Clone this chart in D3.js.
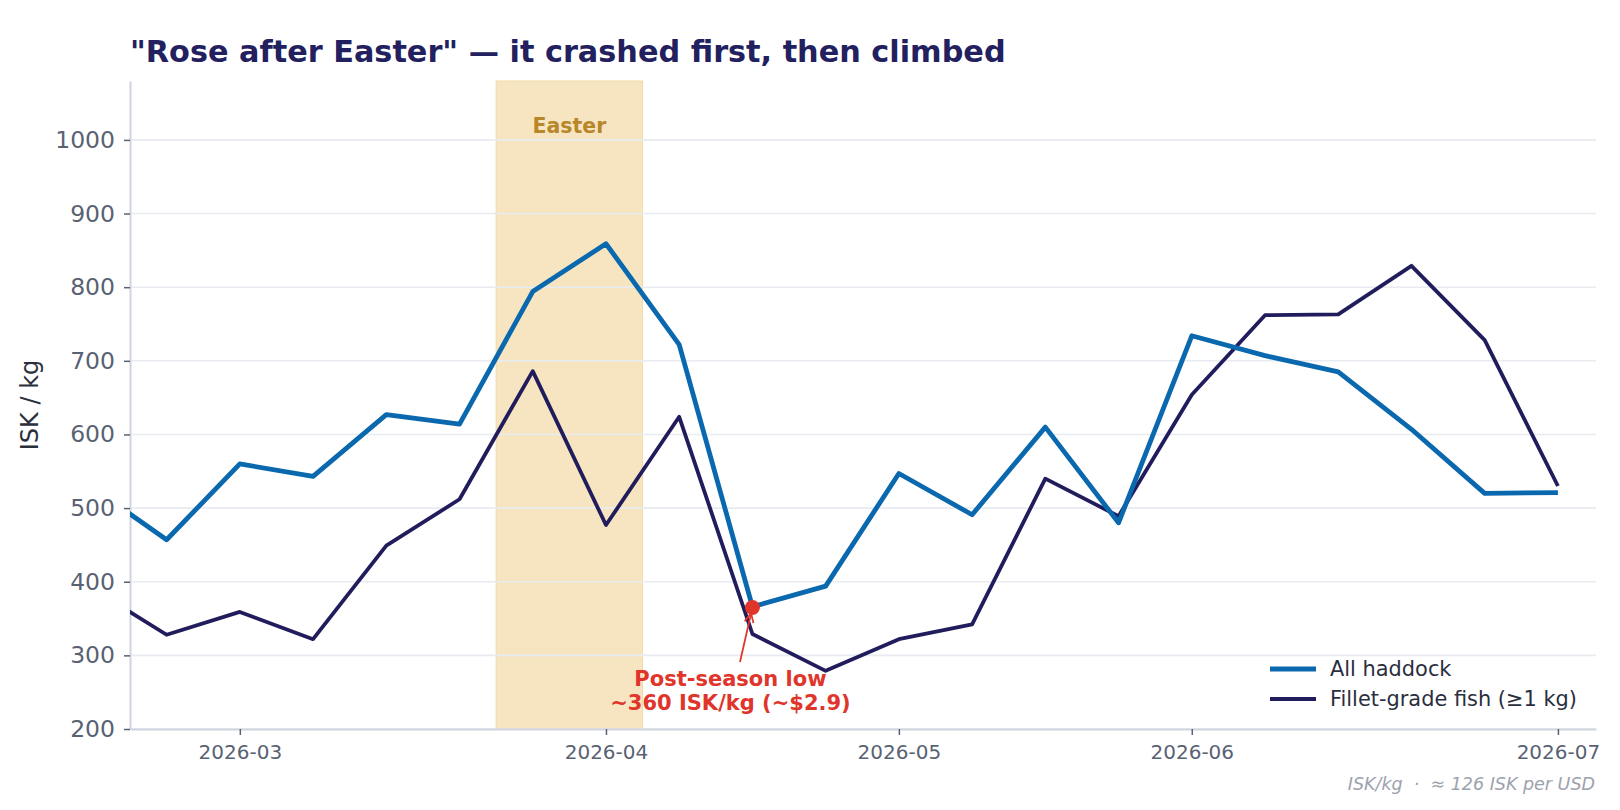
<!DOCTYPE html>
<html>
<head>
<meta charset="utf-8">
<script src="https://cdn.jsdelivr.net/npm/d3@7"></script>
<style>
  body { margin: 0; background: #fff; }
  text { font-family: "DejaVu Sans", sans-serif; }
</style>
</head>
<body>
<script>
/* DATA */
// weekly auction dates (one point per week, evenly spaced on the axis)
var weeks = ["2026-02-15", "2026-02-22", "2026-03-01", "2026-03-08", "2026-03-15", "2026-03-22",
  "2026-03-29", "2026-04-05", "2026-04-12", "2026-04-19", "2026-04-26", "2026-05-03",
  "2026-05-10", "2026-05-17", "2026-05-24", "2026-05-31", "2026-06-07", "2026-06-14",
  "2026-06-21", "2026-06-28", "2026-07-05"];
var haddock = [527, 457, 560, 543, 627, 614, 794, 859, 722, 366, 394, 547, 491, 610, 480, 734, 707, 685, 607, 520, 521];
var fillet  = [390, 328, 359, 322, 449, 512, 686, 477, 624, 329, 279, 322, 342, 540, 489, 654, 762, 763, 829, 728, 530];
var seriesNames = ["All haddock", "Fillet-grade fish (\u22651 kg)"];

var tickWeeks  = ["2026-03-01", "2026-04-05", "2026-05-03", "2026-05-31", "2026-07-05"];
var tickLabels = ["2026-03", "2026-04", "2026-05", "2026-06", "2026-07"];
var yTicks = [200, 300, 400, 500, 600, 700, 800, 900, 1000];

// Easter window, in week positions
var easterSpan = [5.5, 7.5];
// annotated low
var lowWeek = "2026-04-19";
var lowValue = 365;

/* GLOBALS */
var W = 1620, H = 810;
var margin = { top: 81, left: 130, bottom: 81, right: 24 };
var width = W - margin.left - margin.right;
var height = H - margin.top - margin.bottom;

var blue = "#0a68ae", navy = "#211d5c", red = "#e0352b";

var svg = d3.select("body").append("svg")
  .attr("width", W)
  .attr("height", H);

var x = d3.scaleLinear().domain([0.5, 20.52]).range([0, width]);
var y = d3.scaleLinear().domain([200, 1080]).range([height, 0]);
var wx = function (w) { return x(weeks.indexOf(w)); };

var g = svg.append("g")
  .attr("transform", "translate(" + margin.left + "," + margin.top + ")");

svg.append("defs").append("clipPath").attr("id", "plot")
  .append("rect").attr("width", width).attr("height", height);

// Easter band
g.append("rect")
  .attr("x", x(easterSpan[0]))
  .attr("width", x(easterSpan[1]) - x(easterSpan[0]))
  .attr("y", 0)
  .attr("height", height)
  .attr("fill", "#f7e5c1")
  .attr("stroke", "#f2d9a6")
  .attr("stroke-width", 1);

g.append("text")
  .attr("x", x((easterSpan[0] + easterSpan[1]) / 2))
  .attr("y", 52)
  .attr("text-anchor", "middle")
  .attr("font-size", "20.5px")
  .attr("font-weight", "bold")
  .attr("fill", "#b8872a")
  .text("Easter");

// gridlines
g.append("g").selectAll("line")
  .data(yTicks)
  .enter().append("line")
  .attr("x1", 0).attr("x2", width)
  .attr("y1", function (d) { return y(d); })
  .attr("y2", function (d) { return y(d); })
  .attr("stroke", "#e8ecf1")
  .attr("stroke-width", 1.6);

// Axes
var axis_y = g.append("g")
  .call(d3.axisLeft(y).tickValues(yTicks).tickFormat(d3.format("d"))
    .tickSize(6).tickSizeOuter(0).tickPadding(9));
axis_y.selectAll("text").attr("font-size", "23.5px").attr("fill", "#596273")
  .style("font-family", "DejaVu Sans");
axis_y.selectAll("line").attr("stroke", "#596273").attr("stroke-width", 1.5);
axis_y.select(".domain").attr("stroke", "#cfd4de").attr("stroke-width", 2);

var axis_x = g.append("g")
  .attr("transform", "translate(0," + height + ")")
  .call(d3.axisBottom(x)
    .tickValues(tickWeeks.map(function (w) { return weeks.indexOf(w); }))
    .tickFormat(function (d, i) { return tickLabels[i]; })
    .tickSize(6).tickSizeOuter(0).tickPadding(10));
axis_x.selectAll("text").attr("font-size", "20px").attr("fill", "#596273")
  .style("font-family", "DejaVu Sans");
axis_x.selectAll("line").attr("stroke", "#596273").attr("stroke-width", 1.5);
axis_x.select(".domain").attr("stroke", "#cfd4de").attr("stroke-width", 2);

// lines
var line = d3.line()
  .x(function (d, i) { return x(i); })
  .y(function (d) { return y(d); });

var lines = g.append("g").attr("clip-path", "url(#plot)");
lines.append("path").datum(fillet)
  .attr("d", line)
  .attr("fill", "none")
  .attr("stroke", navy)
  .attr("stroke-width", 3.8)
  .attr("stroke-linejoin", "round");
lines.append("path").datum(haddock)
  .attr("d", line)
  .attr("fill", "none")
  .attr("stroke", blue)
  .attr("stroke-width", 4.8)
  .attr("stroke-linejoin", "round");

// annotation
svg.select("defs").append("marker")
  .attr("id", "head")
  .attr("viewBox", "-10 -6 12 12")
  .attr("refX", 0).attr("refY", 0)
  .attr("markerWidth", 12).attr("markerHeight", 12)
  .attr("markerUnits", "userSpaceOnUse")
  .attr("orient", "auto")
  .append("path")
  .attr("d", "M-9,-4.5 L0,0 L-9,4.5")
  .attr("fill", "none")
  .attr("stroke", red)
  .attr("stroke-width", 1.8);

var lx = wx(lowWeek), ly = y(lowValue);
var tx = x(weeks.indexOf(lowWeek) - 0.17), ty = y(291);
var ang = Math.atan2(ly - ty, lx - tx);
g.append("line")
  .attr("x1", tx).attr("y1", ty)
  .attr("x2", lx - 6 * Math.cos(ang)).attr("y2", ly - 6 * Math.sin(ang))
  .attr("stroke", red)
  .attr("stroke-width", 1.8)
  .attr("marker-end", "url(#head)");

g.append("circle")
  .attr("cx", lx).attr("cy", ly)
  .attr("r", 7.5)
  .attr("fill", red);

var note = g.append("text")
  .attr("x", x(weeks.indexOf(lowWeek) - 0.3))
  .attr("y", y(258))
  .attr("text-anchor", "middle")
  .attr("font-size", "21px")
  .attr("font-weight", "bold")
  .attr("fill", red);
note.append("tspan").text("Post-season low");
note.append("tspan").attr("x", x(weeks.indexOf(lowWeek) - 0.3)).attr("dy", 24)
  .text("~360 ISK/kg (~$2.9)");

// legend
var legend = svg.append("g").attr("transform", "translate(1270,669)");
[blue, navy].forEach(function (c, i) {
  legend.append("line")
    .attr("x1", 0).attr("x2", 46)
    .attr("y1", i * 30).attr("y2", i * 30)
    .attr("stroke", c)
    .attr("stroke-width", i === 0 ? 4.8 : 3.8);
  legend.append("text")
    .attr("x", 60).attr("y", i * 30 + 7)
    .attr("font-size", "20.9px")
    .attr("fill", "#2a2f3d")
    .text(seriesNames[i]);
});

// title
svg.append("text")
  .attr("x", margin.left)
  .attr("y", 62)
  .attr("font-size", "30.3px")
  .attr("font-weight", "bold")
  .attr("fill", "#22205e")
  .text("\"Rose after Easter\" \u2014 it crashed first, then climbed");

// y label
svg.append("text")
  .attr("transform", "translate(38," + (margin.top + height / 2) + ") rotate(-90)")
  .attr("text-anchor", "middle")
  .attr("font-size", "24px")
  .attr("fill", "#2a2f3d")
  .text("ISK / kg");

// footnote
svg.append("text")
  .attr("x", 1595)
  .attr("y", 790)
  .attr("text-anchor", "end")
  .attr("font-size", "17.5px")
  .attr("font-style", "italic")
  .attr("fill", "#9ca2ae")
  .style("white-space", "pre")
  .text("ISK/kg  \u00b7  \u2248 126 ISK per USD");
</script>
</body>
</html>
